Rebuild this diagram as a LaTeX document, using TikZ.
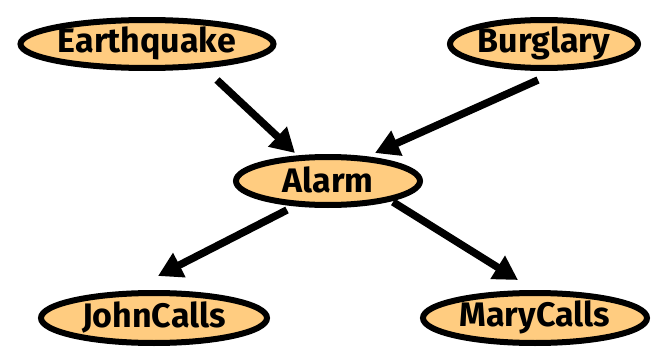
\documentclass[tikz,border=0pt]{standalone}
\usepackage{fontspec}
\setmainfont{Fira Sans}
\usetikzlibrary{shapes.geometric,arrows.meta,calc}
\definecolor{nodefill}{HTML}{FFCC80}
\tikzset{
  var/.style={ellipse, draw=black, line width=6pt, fill=nodefill, inner sep=0pt,
    label={[font=\fontsize{34}{40}\selectfont\bfseries, text=black, inner sep=0pt, yshift=1pt]center:#1}},
  arr/.style={line width=7.5pt, -{Triangle[length=24pt,width=26pt]}}
}
\begin{document}
\begin{tikzpicture}[x=1pt,y=-1pt]
\useasboundingbox (0,0) rectangle (665,356);
\node[var=Earthquake, minimum width=253pt, minimum height=48pt] (eq) at (147,44) {};
\node[var=Burglary, minimum width=188pt, minimum height=48pt] (bu) at (544,44) {};
\node[var=Alarm, minimum width=184pt, minimum height=48pt] (al) at (328,181) {};
\node[var=JohnCalls, minimum width=226pt, minimum height=50pt] (jo) at (154,318) {};
\node[var=MaryCalls, minimum width=224pt, minimum height=50pt] (ma) at (535,318) {};
\draw[arr] ($(eq.center)+(70,36)$) -- ($(al.center)+(-33,-28)$);
\draw[arr] ($(bu.center)+(-6,36)$) -- ($(al.center)+(47,-28)$);
\draw[arr] ($(al.center)+(-41,29)$) -- ($(jo.center)+(4,-42)$);
\draw[arr] ($(al.center)+(65,21)$) -- ($(ma.center)+(-17,-38)$);
\end{tikzpicture}
\end{document}
